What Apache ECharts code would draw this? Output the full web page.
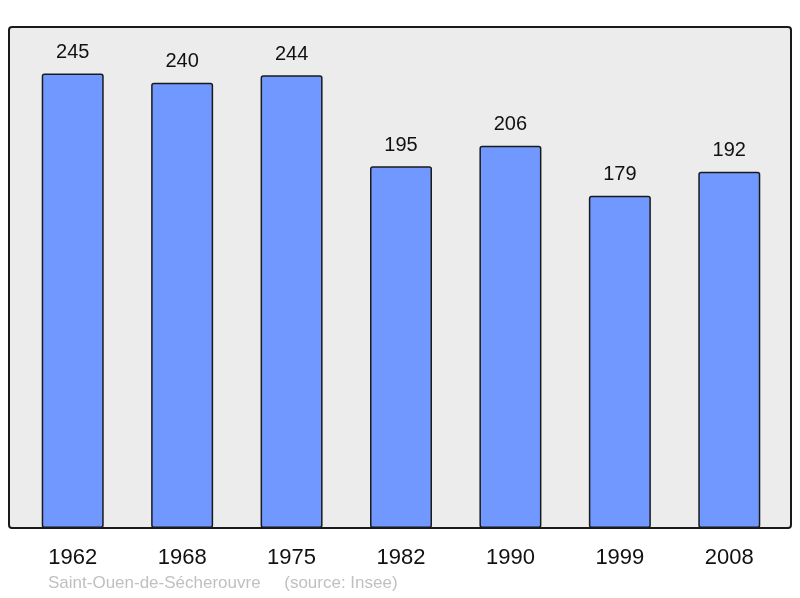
<!DOCTYPE html>
<html>
<head>
<meta charset="utf-8">
<script src="https://cdn.jsdelivr.net/npm/echarts@6/dist/echarts.min.js"></script>
<style>
  html, body { margin: 0; padding: 0; background: #fff; }
  #main { width: 800px; height: 598px; }
</style>
</head>
<body>
<div id="main"></div>
<script>
var years = ["1962", "1968", "1975", "1982", "1990", "1999", "2008"];
var population = [245, 240, 244, 195, 206, 179, 192];
var footer = "Saint-Ouen-de-Sécherouvre     (source: Insee)";

var myChart = echarts.init(document.getElementById("main"));
var option = {
  animation: false,
  textStyle: { fontFamily: "Liberation Sans" },
  grid: { left: 18, right: 16, top: 27, bottom: 70 },
  graphic: [
    {
      type: "rect",
      z: -10,
      silent: true,
      shape: { x: 9, y: 27, width: 782, height: 501, r: 3 },
      style: { fill: "#ececec", stroke: "#1a1a1a", lineWidth: 2 }
    },
    {
      type: "text",
      left: 48,
      top: 575,
      style: {
        text: footer,
        fill: "#c0c0c0",
        font: "17px Liberation Sans"
      }
    }
  ],
  xAxis: {
    type: "category",
    data: years,
    axisLine: { show: false },
    axisTick: { show: false },
    axisLabel: { color: "#111", fontSize: 22, margin: 19 }
  },
  yAxis: {
    type: "value",
    min: 0,
    max: 270,
    show: false,
    splitLine: { show: false }
  },
  series: [
    {
      type: "bar",
      data: population,
      barWidth: 62,
      itemStyle: {
        color: "#7098ff",
        borderColor: "#1a1a1a",
        borderWidth: 1.5,
        borderRadius: 2
      },
      label: {
        show: true,
        position: "top",
        distance: 11,
        color: "#111",
        fontSize: 20
      }
    }
  ]
};
myChart.setOption(option);
</script>
</body>
</html>
